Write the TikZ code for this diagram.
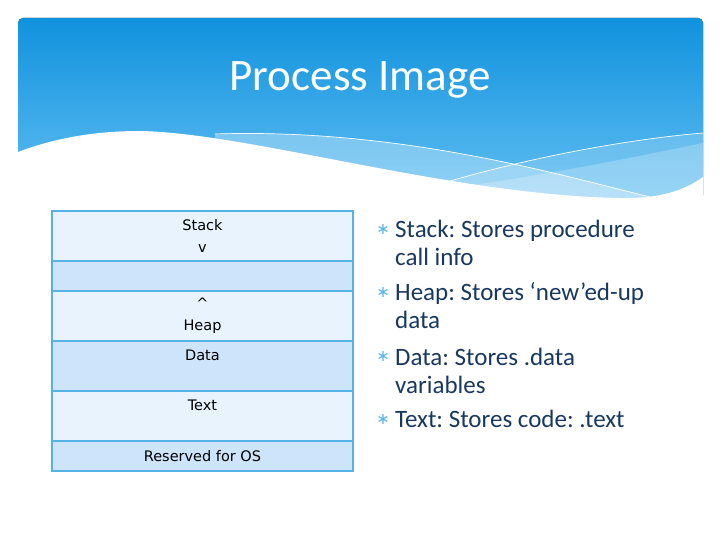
\documentclass[tikz,border=0pt]{standalone}
\usepackage{fontspec}
\setmainfont{Carlito}
\newfontfamily\boxfont{DejaVu Sans}
\newfontfamily\starfont{DejaVu Sans}
\usetikzlibrary{positioning}
\frenchspacing
\definecolor{hdtop}{RGB}{17,146,222}
\definecolor{hdbot}{RGB}{96,190,241}
\definecolor{rowline}{RGB}{86,178,228}
\definecolor{rowlight}{RGB}{233,243,253}
\definecolor{rowdark}{RGB}{205,228,250}
\definecolor{bultext}{RGB}{24,56,96}
\definecolor{bulstar}{RGB}{86,180,232}

\begin{document}
\begin{tikzpicture}[x=1pt, y=-1pt,
  title/.style={font=\fontsize{45}{48}\selectfont, text=white, inner sep=0pt},
  row/.style={draw=rowline, line width=1.4pt, minimum width=301pt, inner sep=0pt, outer sep=0pt,
    align=center, text=black, font=\boxfont\fontsize{14.5}{22}\selectfont},
  lightrow/.style={row, fill=rowlight},
  darkrow/.style={row, fill=rowdark},
  bullet/.style={anchor=base west, inner sep=0pt, align=left, text=bultext,
    font=\fontsize{25}{28}\selectfont},
  star/.style={inner sep=0pt, text=bulstar, font=\starfont\fontsize{16}{16}\selectfont},
  wline/.style={draw=white, line width=0.7pt}
]
  \useasboundingbox (0,0) rectangle (720,540);

  \fill[top color=hdtop, bottom color=hdbot, rounded corners=5pt] (18,200) -- (18,18) -- (703,18) -- (703,200) [sharp corners] -- cycle;
  \fill[white, opacity=0.18] (440,184) .. controls (520,160) and (620,140) .. (703,133) -- (703,215) -- (440,215) -- cycle;
  \fill[white, opacity=0.22] (380,196) .. controls (500,185) and (620,160) .. (703,143) -- (703,215) -- (380,215) -- cycle;
  \fill[white, opacity=0.3] (215,134) .. controls (400,128) and (560,175) .. (650,197) -- (703,215) -- (215,215) -- cycle;
  \fill[white] (18,152) .. controls (55,138) and (95,131) .. (140,131) .. controls (250,133) and (450,195) .. (620,198)
    .. controls (660,199) and (685,190) .. (703,177) -- (703,215) -- (18,215) -- cycle;
  \draw[wline] (215,134) .. controls (400,128) and (560,175) .. (650,197);
  \draw[wline] (440,184) .. controls (520,160) and (620,140) .. (703,133);

  \node[title, anchor=base] (head) at (360,91) {Process Image};

  \node[lightrow, minimum height=50pt, anchor=north west] (stk) at (52,211) {Stack\\v};
  \node[darkrow, minimum height=30pt, below=0pt of stk] (gap) {};
  \node[lightrow, minimum height=50pt, below=0pt of gap] (heap) {\textasciicircum\\Heap};
  \node[darkrow, minimum height=50pt, below=0pt of heap] (data) {Data\\\mbox{}};
  \node[lightrow, minimum height=50pt, below=0pt of data] (text) {Text\\\mbox{}};
  \node[darkrow, minimum height=30pt, below=0pt of text] (os) {Reserved for OS};

  \node[bullet] (b1) at (395,265) {Stack: Stores procedure\\call info};
  \node[bullet] (b2) at (395,328) {Heap: Stores ‘new’ed-up\\data};
  \node[bullet] (b3) at (395,393) {Data: Stores .data\\variables};
  \node[bullet] (b4) at (395,427) {Text: Stores code: .text};
  \node[star] (s1) at (383,229) {∗};
  \node[star] (s2) at (383,292) {∗};
  \node[star] (s3) at (383,356) {∗};
  \node[star] (s4) at (383,419) {∗};
\end{tikzpicture}
\end{document}
